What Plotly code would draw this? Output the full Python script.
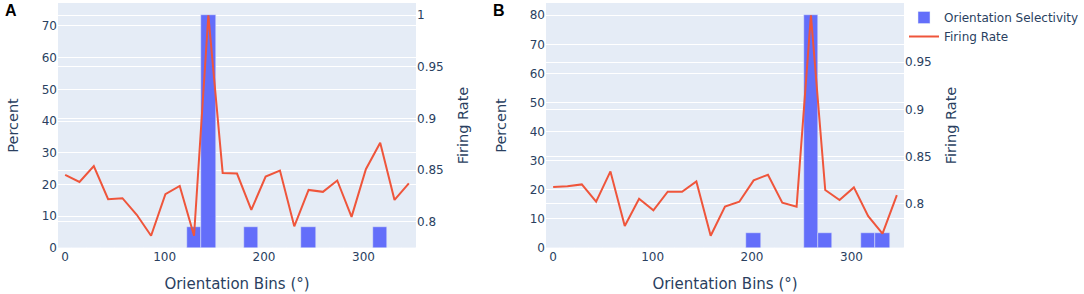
import plotly.graph_objects as go
from plotly.subplots import make_subplots

# Orientation bins (degrees): 25 bins of 14.4 deg
bins = [round(i * 14.4, 1) for i in range(25)]

# Panel A
pct_a = [0, 0, 0, 0, 0, 0, 0, 0, 0, 6.67, 73.33, 0, 0, 6.67, 0, 0, 0, 6.67, 0, 0, 0, 0, 6.67, 0, 0]
fr_a = [0.8454, 0.8386, 0.8540, 0.8219, 0.8229, 0.8068, 0.7865, 0.8267, 0.8347, 0.7865,
        1.0, 0.8473, 0.8467, 0.8116, 0.8438, 0.8496, 0.7956, 0.8309, 0.8290, 0.8400,
        0.8048, 0.8509, 0.8766, 0.8212, 0.8373]

# Panel B
pct_b = [0, 0, 0, 0, 0, 0, 0, 0, 0, 0, 0, 0, 0, 0, 5, 0, 0, 0, 80, 5, 0, 0, 5, 5, 0]
fr_b = [0.8173, 0.8181, 0.8202, 0.8018, 0.8340, 0.7759, 0.8050, 0.7926, 0.8124, 0.8124,
        0.8234, 0.7656, 0.7967, 0.8018, 0.8245, 0.8305, 0.8007, 0.7965, 1.0, 0.8142,
        0.8035, 0.8170, 0.7865, 0.7678, 0.8088]

W, H = 1084, 294
ML, MR, MT, MB = 58, 180, 3, 46
PW, PH = W - ML - MR, H - MT - MB

fig = make_subplots(rows=1, cols=2,
                    specs=[[{"secondary_y": True}, {"secondary_y": True}]],
                    horizontal_spacing=130 / PW)

FONT = "DejaVu Sans"
for col, (pct, fr) in enumerate([(pct_a, fr_a), (pct_b, fr_b)], start=1):
    show = col == 2
    fig.add_trace(go.Bar(x=bins, y=pct, name="Orientation Selectivity",
                         marker_color="#636efa", showlegend=show),
                  row=1, col=col, secondary_y=False)
    fig.add_trace(go.Scatter(x=bins, y=fr, name="Firing Rate", mode="lines",
                             line=dict(color="#EF553B", width=2), showlegend=show),
                  row=1, col=col, secondary_y=True)
    fig.update_xaxes(title_text="Orientation Bins (°)", dtick=100,
                     title_font=dict(size=15), row=1, col=col)
    fig.update_yaxes(title_text="Percent", dtick=10, title_font=dict(size=14.5),
                     title_standoff=19, row=1, col=col, secondary_y=False)
    fig.update_yaxes(title_text="Firing Rate", dtick=0.05, title_font=dict(size=14.5),
                     row=1, col=col, secondary_y=True)

fig.update_xaxes(domain=[0, 358 / PW], row=1, col=1)
fig.update_xaxes(domain=[488 / PW, 1], row=1, col=2)


def px2paper(xp, yp):
    return (xp - ML) / PW, (H - MB - yp) / PH


ax, ay = px2paper(11, 10.5)
bx, by = px2paper(499, 10.5)

fig.update_layout(
    template="plotly",
    width=W, height=H,
    margin=dict(l=ML, r=MR, t=MT, b=MB, autoexpand=False),
    bargap=0,
    font=dict(family=FONT, size=12),
    legend=dict(font=dict(size=12), x=1.0, xanchor="left", y=1, yanchor="top"),
    annotations=[
        dict(text="<b>A</b>", x=ax, y=ay, xref="paper", yref="paper", showarrow=False,
             xanchor="center", yanchor="middle",
             font=dict(family="Liberation Sans", size=16, color="black")),
        dict(text="<b>B</b>", x=bx, y=by, xref="paper", yref="paper", showarrow=False,
             xanchor="center", yanchor="middle",
             font=dict(family="Liberation Sans", size=16, color="black")),
    ],
)

fig.write_html("out.html", config={"displayModeBar": False},
               post_script="document.body.style.margin='0';")
